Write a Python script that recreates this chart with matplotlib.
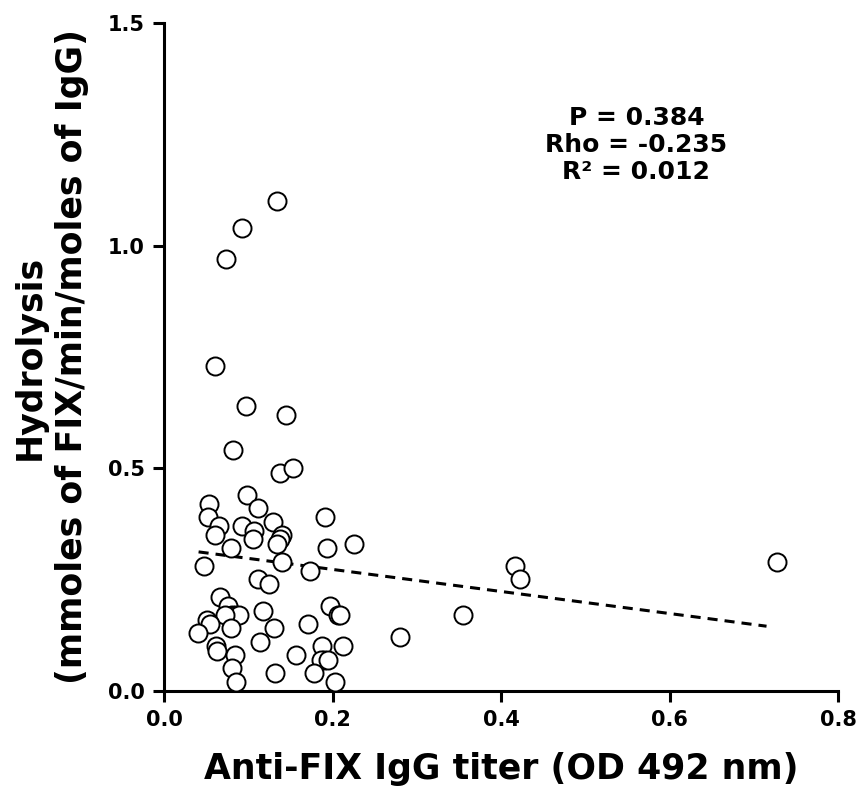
import matplotlib.pyplot as plt

# Anti-FIX IgG titer (OD 492 nm) vs hydrolysis
titer = [0.134, 0.093, 0.073, 0.061, 0.097, 0.145, 0.082, 0.138, 0.153, 0.098,
         0.053, 0.111, 0.052, 0.065, 0.092, 0.129, 0.107, 0.060, 0.105, 0.140,
         0.138, 0.134, 0.191, 0.193, 0.225, 0.079, 0.047, 0.140, 0.173, 0.111,
         0.124, 0.066, 0.076, 0.081, 0.085, 0.089, 0.072, 0.051, 0.054, 0.079,
         0.040, 0.118, 0.130, 0.114, 0.171, 0.197, 0.207, 0.209, 0.062, 0.063,
         0.084, 0.081, 0.085, 0.132, 0.157, 0.187, 0.190, 0.186, 0.195, 0.178,
         0.212, 0.203, 0.728, 0.417, 0.423, 0.355, 0.280]
hydrolysis = [1.10, 1.04, 0.97, 0.73, 0.64, 0.62, 0.54, 0.49, 0.50, 0.44,
              0.42, 0.41, 0.39, 0.37, 0.37, 0.38, 0.36, 0.35, 0.34, 0.35,
              0.34, 0.33, 0.39, 0.32, 0.33, 0.32, 0.28, 0.29, 0.27, 0.25,
              0.24, 0.21, 0.19, 0.17, 0.17, 0.17, 0.17, 0.16, 0.15, 0.14,
              0.13, 0.18, 0.14, 0.11, 0.15, 0.19, 0.17, 0.17, 0.10, 0.09,
              0.08, 0.05, 0.02, 0.04, 0.08, 0.10, 0.07, 0.07, 0.07, 0.04,
              0.10, 0.02, 0.29, 0.28, 0.25, 0.17, 0.12]

# trend line end points
fit_x = [0.041, 0.715]
fit_y = [0.312, 0.145]

stats_text = "P = 0.384\nRho = -0.235\nR² = 0.012"

fig = plt.figure(figsize=(8.57, 7.98), dpi=100)
ax = fig.add_axes([0.1914, 0.1344, 0.7866, 0.8366])

ax.plot(titer, hydrolysis, 'o', ms=13, mfc='white', mec='black', mew=1.4,
        linestyle='none', zorder=3)
ax.plot(fit_x, fit_y, '--', color='black', lw=2.2, dashes=(3.3, 2.3), zorder=2)

ax.set_xlim(0, 0.8)
ax.set_ylim(0, 1.5)
ax.set_xticks([0.0, 0.2, 0.4, 0.6, 0.8])
ax.set_yticks([0.0, 0.5, 1.0, 1.5])
ax.set_xticklabels(['0.0', '0.2', '0.4', '0.6', '0.8'])
ax.set_yticklabels(['0.0', '0.5', '1.0', '1.5'])

for s in ['top', 'right']:
    ax.spines[s].set_visible(False)
for s in ['left', 'bottom']:
    ax.spines[s].set_linewidth(2.2)
ax.tick_params(width=2.2, length=8, direction='out', labelsize=15, pad=6)
for lab in ax.get_xticklabels() + ax.get_yticklabels():
    lab.set_fontweight('bold')

ax.set_xlabel("Anti-FIX IgG titer (OD 492 nm)", fontsize=25, fontweight='bold',
              labelpad=16)
ax.set_ylabel("Hydrolysis\n(mmoles of FIX/min/moles of IgG)", fontsize=25,
              fontweight='bold', linespacing=1.3)
ax.yaxis.set_label_coords(-0.112, 0.5)

ax.text(0.5605, 1.226, stats_text, ha='center', va='center', fontsize=18,
        fontweight='bold', linespacing=1.15)

fig.savefig('out.png', dpi=100)
